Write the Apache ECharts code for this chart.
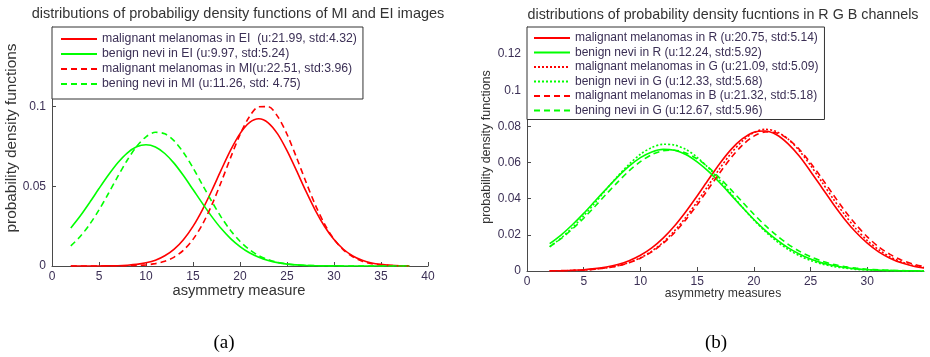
<!DOCTYPE html>
<html>
<head>
<meta charset="utf-8">
<script src="https://cdn.jsdelivr.net/npm/echarts@6/dist/echarts.min.js"></script>
<style>
html,body{margin:0;padding:0;background:#fff;}
#c{width:930px;height:357px;}
</style>
</head>
<body>
<div id="c"></div>
<script>
// ---- data (a) ----
const xA = [2,3,4,5,6,7,8,9,10,11,12,13,14,15,16,17,18,19,20,21,22,23,24,25,26,27,28,29,30,31,32,33,34,35,36,37,38];
const nameA = [
  'malignant melanomas in EI  (u:21.99, std:4.32)',
  'benign nevi in EI (u:9.97, std:5.24)',
  'malignant melanomas in MI(u:22.51, std:3.96)',
  'bening nevi in MI (u:11.26, std: 4.75)'
];
const melEI = [0.0000,0.0000,0.0000,0.0000,0.0001,0.0002,0.0005,0.0010,0.0020,0.0036,0.0064,0.0106,0.0167,0.0249,0.0353,0.0474,0.0603,0.0727,0.0831,0.0900,0.0924,0.0899,0.0829,0.0724,0.0600,0.0471,0.0351,0.0248,0.0166,0.0105,0.0063,0.0036,0.0019,0.0010,0.0005,0.0002,0.0001];
const benEI = [0.0239,0.0314,0.0398,0.0486,0.0571,0.0648,0.0709,0.0748,0.0761,0.0747,0.0706,0.0644,0.0566,0.0480,0.0393,0.0310,0.0235,0.0172,0.0122,0.0083,0.0055,0.0035,0.0021,0.0012,0.0007,0.0004,0.0002,0.0001,0.0001,0.0000,0.0000,0.0000,0.0000,0.0000,0.0000,0.0000,0.0000];
const melMI = [0.0000,0.0000,0.0000,0.0000,0.0000,0.0000,0.0001,0.0003,0.0007,0.0015,0.0030,0.0056,0.0100,0.0167,0.0261,0.0383,0.0527,0.0680,0.0824,0.0937,0.0999,0.1000,0.0939,0.0827,0.0683,0.0530,0.0385,0.0263,0.0168,0.0101,0.0057,0.0030,0.0015,0.0007,0.0003,0.0001,0.0000];
const benMI = [0.0126,0.0185,0.0261,0.0352,0.0455,0.0562,0.0664,0.0750,0.0811,0.0839,0.0830,0.0785,0.0711,0.0616,0.0510,0.0405,0.0307,0.0223,0.0155,0.0103,0.0065,0.0040,0.0023,0.0013,0.0007,0.0003,0.0002,0.0001,0.0000,0.0000,0.0000,0.0000,0.0000,0.0000,0.0000,0.0000,0.0000];

// ---- data (b) ----
const xB = [2,3,4,5,6,7,8,9,10,11,12,13,14,15,16,17,18,19,20,21,22,23,24,25,26,27,28,29,30,31,32,33,34,35];
const nameB = [
  'malignant melanomas in R (u:20.75, std:5.14)',
  'benign nevi in R (u:12.24, std:5.92)',
  'malignant melanomas in G (u:21.09, std:5.09)',
  'benign nevi in G (u:12.33, std:5.68)',
  'malignant melanomas in B (u:21.32, std:5.18)',
  'bening nevi in G (u:12.67, std:5.96)'
];
const melR = [0.0001,0.0002,0.0004,0.0007,0.0013,0.0022,0.0036,0.0057,0.0087,0.0128,0.0182,0.0249,0.0328,0.0415,0.0506,0.0595,0.0673,0.0732,0.0768,0.0775,0.0754,0.0705,0.0636,0.0551,0.0461,0.0371,0.0287,0.0214,0.0154,0.0106,0.0071,0.0045,0.0028,0.0017];
const benR = [0.0151,0.0199,0.0256,0.0319,0.0387,0.0455,0.0521,0.0580,0.0627,0.0659,0.0673,0.0668,0.0645,0.0604,0.0551,0.0488,0.0420,0.0351,0.0285,0.0225,0.0173,0.0129,0.0094,0.0066,0.0045,0.0030,0.0019,0.0012,0.0007,0.0004,0.0003,0.0001,0.0001,0.0000];
const melG = [0.0001,0.0001,0.0003,0.0005,0.0010,0.0017,0.0029,0.0047,0.0073,0.0110,0.0159,0.0222,0.0297,0.0383,0.0475,0.0568,0.0652,0.0720,0.0766,0.0784,0.0771,0.0731,0.0666,0.0584,0.0492,0.0399,0.0312,0.0234,0.0169,0.0118,0.0079,0.0051,0.0031,0.0019];
const benG = [0.0134,0.0182,0.0240,0.0305,0.0377,0.0452,0.0525,0.0591,0.0646,0.0683,0.0701,0.0697,0.0673,0.0629,0.0570,0.0501,0.0427,0.0352,0.0282,0.0219,0.0165,0.0120,0.0085,0.0058,0.0039,0.0025,0.0016,0.0009,0.0006,0.0003,0.0002,0.0001,0.0000,0.0000];
const melB = [0.0001,0.0001,0.0003,0.0005,0.0010,0.0017,0.0028,0.0046,0.0071,0.0106,0.0153,0.0212,0.0284,0.0366,0.0455,0.0544,0.0627,0.0697,0.0746,0.0769,0.0764,0.0731,0.0674,0.0598,0.0512,0.0422,0.0335,0.0257,0.0189,0.0134,0.0092,0.0061,0.0039,0.0024];
const benB = [0.0135,0.0179,0.0232,0.0292,0.0358,0.0426,0.0492,0.0554,0.0605,0.0644,0.0665,0.0668,0.0653,0.0620,0.0573,0.0514,0.0449,0.0381,0.0314,0.0252,0.0197,0.0149,0.0110,0.0079,0.0055,0.0037,0.0024,0.0016,0.0010,0.0006,0.0003,0.0002,0.0001,0.0001];

const titleA = 'distributions of probabiligy density functions of MI and EI images';
const titleB = 'distributions of probability density fucntions in R G B channels';

// ---- styling ----
const RED = '#ff0000', GREEN = '#00ff00';
const TXT = '#3b2f55', AX = '#4a4a4a';
const FONT = '"Liberation Sans", Arial, sans-serif';

function pairs(xs, ys){ return xs.map((x,i)=>[x, ys[i]]); }
function line(name, xs, ys, color, type, idx){
  return {
    name, type:'line', xAxisIndex: idx, yAxisIndex: idx,
    data: pairs(xs, ys), showSymbol:false, symbol:'none', smooth:0.3,
    lineStyle:{color, width:1.6, type}, itemStyle:{color},
    animation:false, z:2
  };
}
const DASH = [6,4];
const DOT = [2,2];

function xAxisCfg(idx, max, hideMax){
  return {
    type:'value', gridIndex: idx, min:0, max, interval:5,
    axisLine:{show:true, onZero:false, lineStyle:{color:AX, width:1}},
    axisTick:{show:true, inside:true, length:4, lineStyle:{color:AX}},
    axisLabel:{color:TXT, fontSize:12, fontFamily:FONT, margin:5, showMaxLabel: !hideMax},
    splitLine:{show:false}
  };
}
function yAxisCfg(idx, max, interval){
  return {
    type:'value', gridIndex: idx, min:0, max, interval,
    axisLine:{show:true, lineStyle:{color:AX, width:1}},
    axisTick:{show:true, inside:true, length:4, lineStyle:{color:AX}},
    axisLabel:{color:TXT, fontSize:12, fontFamily:FONT, margin:6, showMaxLabel:false,
      formatter: v => v===0 ? '0' : String(+v.toFixed(3))},
    splitLine:{show:false}
  };
}
function legendCfg(data, left, pad, gap, fs){
  return {
    data, left, top:27, orient:'vertical',
    itemWidth:36, itemHeight:12, itemGap:gap,
    padding:pad, borderColor:'#333', borderWidth:1, backgroundColor:'#fff',
    textStyle:{color:TXT, fontSize:fs, fontFamily:FONT},
    itemStyle:{opacity:0},
    selectedMode:false
  };
}

const chart = echarts.init(document.getElementById('c'), null, {renderer:'canvas'});
chart.setOption({
  backgroundColor:'#ffffff',
  animation:false,
  grid:[
    {left:52, top:27, width:376, height:239},
    {left:527, top:27, width:397, height:244}
  ],
  xAxis:[ xAxisCfg(0, 40, false), xAxisCfg(1, 35, true) ],
  yAxis:[ yAxisCfg(0, 0.15, 0.05), yAxisCfg(1, 0.135, 0.02) ],
  legend:[
    legendCfg(nameA, 52, [6,6,9,8], 3, 12.3),
    legendCfg(nameB, 527, [5,6,3,6], 2.5, 12)
  ],
  series:[
    line(nameA[0], xA, melEI, RED, 'solid', 0),
    line(nameA[1], xA, benEI, GREEN, 'solid', 0),
    line(nameA[2], xA, melMI, RED, DASH, 0),
    line(nameA[3], xA, benMI, GREEN, DASH, 0),
    line(nameB[0], xB, melR, RED, 'solid', 1),
    line(nameB[1], xB, benR, GREEN, 'solid', 1),
    line(nameB[2], xB, melG, RED, DOT, 1),
    line(nameB[3], xB, benG, GREEN, DOT, 1),
    line(nameB[4], xB, melB, RED, DASH, 1),
    line(nameB[5], xB, benB, GREEN, DASH, 1)
  ],
  graphic:[
    {type:'text', style:{text:titleA, x:238, y:14, align:'center', verticalAlign:'middle', fill:'#333', font:'14.5px '+FONT}},
    {type:'text', style:{text:titleB, x:723, y:15, align:'center', verticalAlign:'middle', fill:'#333', font:'14.3px '+FONT}},
    {type:'text', style:{text:'asymmetry measure', x:239, y:291, align:'center', verticalAlign:'middle', fill:'#333', font:'14.7px '+FONT}},
    {type:'text', style:{text:'asymmetry measures', x:723, y:294, align:'center', verticalAlign:'middle', fill:'#333', font:'12.2px '+FONT}},
    {type:'text', rotation:Math.PI/2, x:12, y:138, style:{text:'probability density functions', x:0, y:0, align:'center', verticalAlign:'middle', fill:'#333', font:'15.4px '+FONT}},
    {type:'text', rotation:Math.PI/2, x:487, y:147, style:{text:'probability density functions', x:0, y:0, align:'center', verticalAlign:'middle', fill:'#333', font:'12.5px '+FONT}},
    {type:'text', style:{text:'(a)', x:224, y:343, align:'center', verticalAlign:'middle', fill:'#000', font:'19px "Liberation Serif", "Times New Roman", serif'}},
    {type:'text', style:{text:'(b)', x:716, y:343, align:'center', verticalAlign:'middle', fill:'#000', font:'19px "Liberation Serif", "Times New Roman", serif'}}
  ]
});
</script>
</body>
</html>
